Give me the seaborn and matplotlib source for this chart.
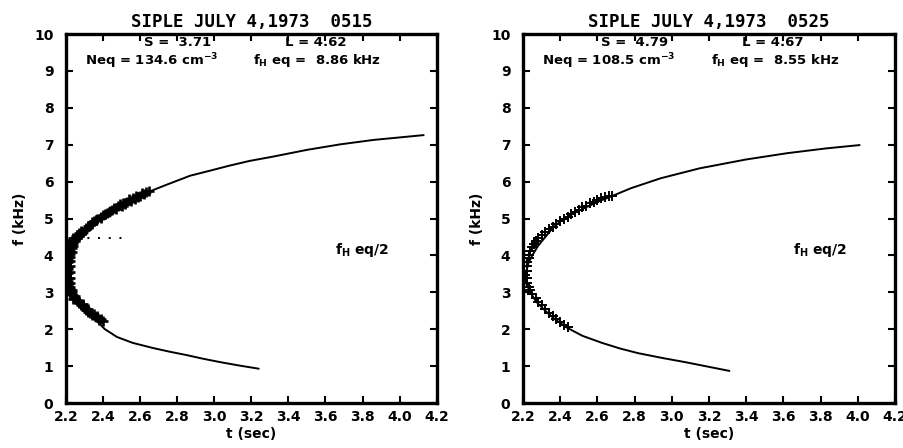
import matplotlib
matplotlib.use("Agg")
import matplotlib.pyplot as plt
import seaborn as sns

# SIPLE JULY 4,1973 0515 -- fitted whistler curve and measured points
curve_a_t = [4.13, 3.86, 3.68, 3.50, 3.32, 3.19, 3.08, 2.98, 2.87, 2.74, 2.65, 2.60, 2.55,
             2.50, 2.45, 2.40, 2.35, 2.30, 2.27, 2.24, 2.22, 2.21, 2.20, 2.20, 2.21, 2.22,
             2.24, 2.27, 2.30, 2.33, 2.37, 2.41, 2.475, 2.56, 2.67, 2.76, 2.85, 2.94, 3.03,
             3.13, 3.24]
curve_a_f = [7.26, 7.13, 7.01, 6.86, 6.68, 6.56, 6.43, 6.30, 6.16, 5.91, 5.73, 5.62, 5.50,
             5.37, 5.23, 5.07, 4.88, 4.64, 4.44, 4.22, 4.00, 3.80, 3.60, 3.40, 3.15, 2.98,
             2.80, 2.62, 2.47, 2.34, 2.20, 2.00, 1.79, 1.63, 1.49, 1.39, 1.30, 1.20, 1.11,
             1.02, 0.93]

pts_a_t = [2.65, 2.63, 2.61, 2.60, 2.58, 2.56, 2.54, 2.53, 2.51, 2.49, 2.48, 2.46, 2.45, 2.43,
           2.42, 2.40, 2.39, 2.37, 2.36, 2.35, 2.34, 2.32, 2.31, 2.30, 2.29, 2.28, 2.27, 2.26,
           2.25, 2.24, 2.24, 2.23, 2.22, 2.22, 2.21, 2.21, 2.21, 2.20, 2.21, 2.20, 2.21, 2.20,
           2.21, 2.21, 2.21, 2.22, 2.22, 2.23, 2.24, 2.25, 2.26, 2.27, 2.28, 2.30, 2.31, 2.33,
           2.34, 2.36, 2.38, 2.40,
           2.62, 2.59, 2.57, 2.55, 2.52, 2.50, 2.47, 2.44, 2.41, 2.39, 2.36, 2.34, 2.33, 2.31,
           2.28, 2.27, 2.26, 2.24, 2.23, 2.22, 2.23, 2.21, 2.23, 2.22, 2.22, 2.22, 2.21, 2.22,
           2.22, 2.22, 2.21, 2.23, 2.22, 2.25, 2.24, 2.27, 2.29, 2.29, 2.32, 2.32, 2.35, 2.37,
           2.39]
pts_a_f = [5.75, 5.72, 5.68, 5.62, 5.60, 5.55, 5.52, 5.46, 5.42, 5.38, 5.33, 5.28, 5.24, 5.18,
           5.14, 5.10, 5.05, 5.00, 4.95, 4.92, 4.86, 4.80, 4.75, 4.70, 4.64, 4.58, 4.52, 4.46,
           4.40, 4.33, 4.26, 4.20, 4.12, 4.05, 3.98, 3.90, 3.82, 3.75, 3.68, 3.60, 3.52, 3.45,
           3.38, 3.30, 3.22, 3.15, 3.08, 3.00, 2.92, 2.85, 2.78, 2.72, 2.66, 2.58, 2.52, 2.45,
           2.38, 2.32, 2.26, 2.22,
           5.66, 5.58, 5.53, 5.47, 5.40, 5.34, 5.27, 5.20, 5.12, 5.02, 4.97, 4.90, 4.83, 4.72,
           4.66, 4.60, 4.55, 4.48, 4.42, 4.35, 4.28, 4.18, 4.10, 3.95, 3.85, 3.72, 3.62, 3.55,
           3.40, 3.25, 3.12, 3.05, 2.96, 2.90, 2.82, 2.75, 2.68, 2.62, 2.55, 2.48, 2.42, 2.35,
           2.28]

dotted_t = [2.20, 2.52]
dotted_f = [4.47, 4.47]

# SIPLE JULY 4,1973 0525
curve_b_t = [4.01, 3.83, 3.62, 3.40, 3.15, 2.94, 2.78, 2.67, 2.61, 2.55, 2.48, 2.41, 2.36,
             2.32, 2.28, 2.25, 2.23, 2.22, 2.21, 2.22, 2.24, 2.27, 2.32, 2.37, 2.43, 2.52,
             2.625, 2.72, 2.82, 2.95, 3.07, 3.19, 3.31]
curve_b_f = [6.99, 6.90, 6.77, 6.60, 6.36, 6.09, 5.82, 5.59, 5.47, 5.33, 5.16, 4.96, 4.74,
             4.50, 4.25, 4.00, 3.80, 3.60, 3.40, 3.20, 3.00, 2.75, 2.50, 2.28, 2.06, 1.82,
             1.63, 1.48, 1.35, 1.22, 1.11, 0.99, 0.87]

pts_b_t = [2.68, 2.66, 2.64, 2.62, 2.60, 2.58, 2.56, 2.54, 2.52, 2.50, 2.48, 2.46, 2.44, 2.42,
           2.40, 2.38, 2.36, 2.34, 2.32, 2.30, 2.28, 2.27, 2.26, 2.25, 2.24, 2.23, 2.23, 2.22,
           2.22, 2.22, 2.21, 2.22, 2.22, 2.23, 2.24, 2.25, 2.27, 2.28, 2.30, 2.32, 2.34, 2.36,
           2.38, 2.40, 2.42, 2.44]
pts_b_f = [5.60, 5.62, 5.58, 5.55, 5.50, 5.46, 5.42, 5.35, 5.30, 5.24, 5.18, 5.12, 5.05, 4.98,
           4.92, 4.85, 4.78, 4.72, 4.64, 4.56, 4.48, 4.40, 4.32, 4.22, 4.12, 4.02, 3.92, 3.82,
           3.70, 3.58, 3.48, 3.38, 3.26, 3.15, 3.05, 2.95, 2.85, 2.75, 2.65, 2.55, 2.45, 2.36,
           2.28, 2.20, 2.12, 2.06]

titles = ["SIPLE JULY 4,1973  0515", "SIPLE JULY 4,1973  0525"]
s_text = ["S =  3.71", "S =  4.79"]
l_text = ["L = 4.62", "L = 4.67"]
neq_text = [r"Neq = 134.6 cm$^{\mathbf{-3}}$", r"Neq = 108.5 cm$^{\mathbf{-3}}$"]
fh_text = [r"$\mathbf{f_H}$ eq =  8.86 kHz", r"$\mathbf{f_H}$ eq =  8.55 kHz"]
xticks = [2.2, 2.4, 2.6, 2.8, 3.0, 3.2, 3.4, 3.6, 3.8, 4.0, 4.2]
yticks = [0, 1, 2, 3, 4, 5, 6, 7, 8, 9, 10]

sns.set_style("ticks")
plt.rcParams["font.family"] = ["DejaVu Sans"]
plt.rcParams["font.weight"] = "bold"
plt.rcParams["mathtext.default"] = "bf"
for key in ["axes.edgecolor", "text.color", "axes.labelcolor", "xtick.color", "ytick.color"]:
    plt.rcParams[key] = "black"

fig = plt.figure(figsize=(9.04, 4.48), dpi=100)
ax1 = fig.add_axes([0.073, 0.1004, 0.410, 0.8237])
ax2 = fig.add_axes([0.5785, 0.1004, 0.4115, 0.8237])

panels = [
    (ax1, curve_a_t, curve_a_f, pts_a_t, pts_a_f, 55, 1.9),
    (ax2, curve_b_t, curve_b_f, pts_b_t, pts_b_f, 42, 1.4),
]

for i, (ax, ct, cf, pt, pf, ms, mlw) in enumerate(panels):
    sns.lineplot(x=ct, y=cf, ax=ax, sort=False, estimator=None, color="black", linewidth=1.4)
    sns.scatterplot(x=pt, y=pf, ax=ax, marker="+", s=ms, color="black", linewidth=mlw, zorder=3)
    if i == 0:
        sns.lineplot(x=dotted_t, y=dotted_f, ax=ax, sort=False, estimator=None,
                     color="black", linestyle=(0, (1, 4.5)), linewidth=1.4)

    ax.set_xlim(2.2, 4.2)
    ax.set_ylim(0, 10)
    ax.set_xticks(xticks)
    ax.set_xticklabels([f"{v:.1f}" for v in xticks])
    ax.set_yticks(yticks)
    ax.tick_params(direction="in", length=5, width=1.5, top=True, right=True, labelsize=10)
    ax.tick_params(axis="x", pad=5)
    ax.tick_params(axis="y", pad=9)
    for lab in ax.get_xticklabels() + ax.get_yticklabels():
        lab.set_fontweight("bold")
    for sp in ax.spines.values():
        sp.set_linewidth(2.4)
        sp.set_visible(True)

    ax.set_xlabel("t (sec)", fontsize=10, fontweight="bold", labelpad=2)
    ax.set_ylabel("f (kHz)", fontsize=10, fontweight="bold", labelpad=5)
    ax.set_title(titles[i], fontsize=12.5, family="DejaVu Sans Mono", fontweight="bold", pad=5)

    ax.text(2.62, 9.76, s_text[i], fontsize=9.5, fontweight="bold", ha="left", va="center")
    ax.text(3.38, 9.76, l_text[i], fontsize=9.5, fontweight="bold", ha="left", va="center")
    ax.text(2.30, 9.27, neq_text[i], fontsize=9.5, fontweight="bold", ha="left", va="center")
    ax.text(3.21, 9.27, fh_text[i], fontsize=9.5, fontweight="bold", ha="left", va="center")
    ax.text(3.65, 4.15, r"$\mathbf{f_H}$ eq/2", fontsize=10, fontweight="bold",
            ha="left", va="center")

fig.savefig("out.png", dpi=100)
